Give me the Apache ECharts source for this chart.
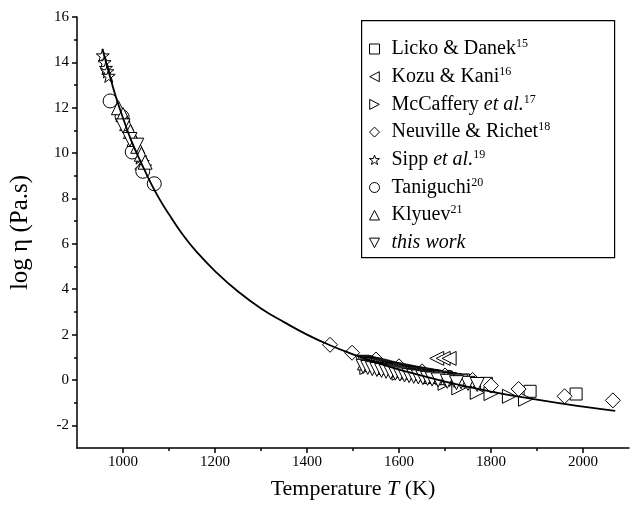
<!DOCTYPE html>
<html><head><meta charset="utf-8">
<script src="https://cdn.jsdelivr.net/npm/echarts@6/dist/echarts.min.js"></script>
<style>html,body{margin:0;padding:0;background:#fff}#c{width:631px;height:516px}</style>
</head><body><div id="c"></div>
<script>
// ---- data ----
const xTicks = [1000, 1200, 1400, 1600, 1800, 2000];
const xMinor = [1100, 1300, 1500, 1700, 1900];
const yTicks = [-2, 0, 2, 4, 6, 8, 10, 12, 14, 16];
const yMinor = [-1, 1, 3, 5, 7, 9, 11, 13, 15];

const fitT = [955, 970, 985, 1000, 1020, 1040, 1060, 1080, 1100, 1130, 1160, 1200, 1250, 1300, 1350, 1400, 1450, 1500, 1550, 1600, 1700, 1800, 1900, 2000, 2070];
const fitV = [14.6, 13.5, 12.45, 11.55, 10.45, 9.55, 8.7, 7.95, 7.3, 6.4, 5.65, 4.8, 3.9, 3.15, 2.55, 2.0, 1.53, 1.13, 0.77, 0.46, -0.07, -0.51, -0.87, -1.18, -1.36];

const lickoT = [1700, 1740, 1790, 1885, 1985];
const lickoV = [0.15, 0.0, -0.15, -0.5, -0.62];
const kozuT = [1682, 1696, 1709];
const kozuV = [0.95, 0.95, 0.95];
const mccT = [1530, 1600, 1700, 1730, 1770, 1800, 1840, 1875];
const mccV = [0.55, 0.3, -0.15, -0.35, -0.55, -0.6, -0.72, -0.85];
const neuT = [1042, 1450, 1498, 1550, 1600, 1650, 1700, 1760, 1800, 1860, 1960, 2065];
const neuV = [9.3, 1.55, 1.2, 0.9, 0.6, 0.38, 0.2, 0.0, -0.25, -0.4, -0.72, -0.9];
const sippT = [956, 960, 963, 966, 969, 1037, 1043, 1048];
const sippV = [14.3, 14.0, 13.75, 13.6, 13.4, 9.8, 9.6, 9.4];
const taniT = [972, 998, 1020, 1043, 1068];
const taniV = [12.3, 11.6, 10.05, 9.2, 8.65];
const klyT = [990, 1000, 1008, 1016, 1024, 1032, 1040, 1048, 1525, 1545, 1570, 1595, 1620, 1645, 1670, 1695, 1715];
const klyV = [12.0, 11.7, 11.3, 10.95, 10.6, 10.3, 9.95, 9.6, 0.75, 0.7, 0.55, 0.45, 0.35, 0.3, 0.15, 0.1, 0.1];
const workT = [1000, 1015, 1030,
  1520, 1525, 1530, 1535, 1540, 1545, 1550, 1555, 1560, 1565, 1570, 1575, 1580, 1585, 1590, 1595, 1600, 1605, 1610, 1615, 1620, 1625, 1630, 1635, 1640, 1645, 1650, 1655, 1660, 1665, 1670, 1675, 1680, 1690, 1700, 1710, 1720, 1735, 1750,
  1522, 1532, 1542, 1552, 1562, 1572, 1582, 1592, 1602, 1612, 1622, 1632, 1642, 1652, 1662, 1672, 1685, 1705, 1725, 1770];
const workV = [11.2, 10.6, 10.35,
  0.78, 0.76, 0.73, 0.7, 0.68, 0.66, 0.63, 0.61, 0.58, 0.56, 0.53, 0.51, 0.48, 0.46, 0.44, 0.42, 0.4, 0.38, 0.36, 0.34, 0.32, 0.3, 0.28, 0.26, 0.25, 0.23, 0.21, 0.2, 0.18, 0.16, 0.15, 0.13, 0.11, 0.08, 0.05, 0.02, -0.02, -0.08, -0.15,
  0.6, 0.55, 0.5, 0.46, 0.42, 0.38, 0.34, 0.3, 0.26, 0.22, 0.19, 0.16, 0.13, 0.1, 0.07, 0.04, 0.0, -0.06, -0.12, -0.2];

const seriesNames = ['Licko & Danek', 'Kozu & Kani', 'McCaffery et al.', 'Neuville & Richet', 'Sipp et al.', 'Taniguchi', 'Klyuev', 'this work'];
const legendRich = {
  'Licko & Danek': '{n|Licko & Danek}{s|15}',
  'Kozu & Kani': '{n|Kozu & Kani}{s|16}',
  'McCaffery et al.': '{n|McCaffery }{i|et al.}{s|17}',
  'Neuville & Richet': '{n|Neuville & Richet}{s|18}',
  'Sipp et al.': '{n|Sipp }{i|et al.}{s|19}',
  'Taniguchi': '{n|Taniguchi}{s|20}',
  'Klyuev': '{n|Klyuev}{s|21}',
  'this work': '{i|this work}'
};

const zip = (a, b) => a.map((v, i) => [v, b[i]]);
const STAR = 'path://M50,2 L61.8,35.1 L97.6,35.5 L69.1,57.3 L79.4,91.5 L50,71.3 L20.6,91.5 L30.9,57.3 L2.4,35.5 L38.2,35.1 Z';
const TRI_UP = 'path://M50,4 L96,92 L4,92 Z';
const TRI_DOWN = 'path://M50,96 L96,8 L4,8 Z';
const TRI_LEFT = 'path://M4,50 L92,4 L92,96 Z';
const TRI_RIGHT = 'path://M96,50 L8,4 L8,96 Z';
const FONT = '"Liberation Serif", "Times New Roman", serif';

function sc(name, t, v, symbol, size) {
  return {
    type: 'scatter', name: name, data: zip(t, v), symbol: symbol, symbolSize: size,
    itemStyle: { color: '#fff', borderColor: '#000', borderWidth: 1, opacity: 1 },
    z: 2, silent: true
  };
}

const chart = echarts.init(document.getElementById('c'), null, { renderer: 'canvas' });
const axisBase = {
  type: 'value', splitLine: { show: false },
  axisLine: { show: true, onZero: false, lineStyle: { color: '#000', width: 1.5 } }
};
chart.setOption({
  animation: false,
  backgroundColor: '#fff',
  grid: { left: 77, top: 17, right: 2, bottom: 68, containLabel: false },
  xAxis: [
    Object.assign({}, axisBase, {
      min: 900, max: 2100, position: 'bottom',
      name: '{n|Temperature }{i|T}{n| (K)}', nameLocation: 'middle', nameGap: 30,
      nameTextStyle: { rich: { n: { fontFamily: FONT, fontSize: 22, color: '#000' }, i: { fontFamily: FONT, fontSize: 22, fontStyle: 'italic', color: '#000' } } },
      axisTick: { show: true, inside: false, length: 5, customValues: xTicks, lineStyle: { color: '#000', width: 1.5 } },
      axisLabel: { show: true, customValues: xTicks, margin: 7, fontFamily: FONT, fontSize: 15, color: '#000', formatter: v => String(v) }
    }),
    Object.assign({}, axisBase, {
      min: 900, max: 2100, position: 'bottom', offset: 0,
      axisLine: { show: false, onZero: false },
      axisTick: { show: true, length: 3, customValues: xMinor, lineStyle: { color: '#000', width: 1.5 } },
      axisLabel: { show: false }
    })
  ],
  yAxis: [
    Object.assign({}, axisBase, {
      min: -3, max: 16, position: 'left',
      name: 'log η (Pa.s)', nameLocation: 'middle', nameGap: 44,
      nameTextStyle: { fontFamily: FONT, fontSize: 25, color: '#000' },
      axisTick: { show: true, length: 5, customValues: yTicks, lineStyle: { color: '#000', width: 1.5 } },
      axisLabel: { show: true, customValues: yTicks, margin: 8, fontFamily: FONT, fontSize: 15, color: '#000', formatter: v => String(v) }
    }),
    Object.assign({}, axisBase, {
      min: -3, max: 16, position: 'left', offset: 0,
      axisLine: { show: false, onZero: false },
      axisTick: { show: true, length: 3, customValues: yMinor, lineStyle: { color: '#000', width: 1.5 } },
      axisLabel: { show: false }
    })
  ],
  graphic: [{
    type: 'rect', left: 361, top: 20, z: 0,
    shape: { width: 253, height: 237 },
    style: { fill: '#fff', stroke: '#000', lineWidth: 1.2 }
  }],
  legend: {
    data: seriesNames, orient: 'vertical', left: 364, top: 33,
    itemWidth: 10, itemHeight: 10, itemGap: 5.7,
    itemStyle: { borderWidth: 1 },
    formatter: n => legendRich[n],
    textStyle: {
      fontFamily: FONT, fontSize: 20, color: '#000', padding: [0, 0, 0, 7], lineHeight: 22,
      rich: {
        n: { fontFamily: FONT, fontSize: 20, color: '#000', lineHeight: 22 },
        i: { fontFamily: FONT, fontSize: 20, fontStyle: 'italic', color: '#000', lineHeight: 22 },
        s: { fontFamily: FONT, fontSize: 12, color: '#000', verticalAlign: 'top', lineHeight: 12 }
      }
    }
  },
  series: [
    sc('Licko & Danek', lickoT, lickoV, 'rect', 12),
    sc('Kozu & Kani', kozuT, kozuV, TRI_LEFT, 14),
    sc('McCaffery et al.', mccT, mccV, TRI_RIGHT, 14),
    sc('Neuville & Richet', neuT, neuV, 'diamond', 15),
    sc('Sipp et al.', sippT, sippV, STAR, 13),
    sc('Taniguchi', taniT, taniV, 'circle', 14),
    sc('Klyuev', klyT, klyV, TRI_UP, 14),
    sc('this work', workT, workV, TRI_DOWN, 14),
    {
      type: 'line', name: 'fit', data: zip(fitT, fitV), smooth: true, symbol: 'none',
      lineStyle: { color: '#000', width: 1.8 }, z: 3, silent: true
    }
  ]
});
</script></body></html>
